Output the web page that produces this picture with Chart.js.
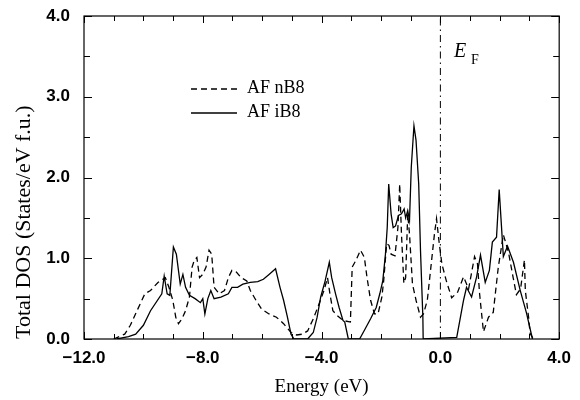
<!DOCTYPE html>
<html>
<head>
<meta charset="utf-8">
<script src="https://cdn.jsdelivr.net/npm/chart.js@4.4.1/dist/chart.umd.min.js"></script>
<style>
  body { margin: 0; background: #fff; }
  #dos { display: block; }
</style>
</head>
<body>
<canvas id="dos" width="580" height="400"></canvas>
<script>
// Total DOS, AF nB8 (dashed) and AF iB8 (solid)
const nB8Energy = [-11.0, -10.63, -10.44, -10.19, -9.95, -9.76, -9.51, -9.26, -9.14, -9.01, -8.91, -8.82, -8.7, -8.58, -8.45,
  -8.36, -8.29, -8.2, -8.11, -8.0, -7.89, -7.79, -7.7, -7.62, -7.45, -7.27, -7.14, -7.02, -6.87, -6.71, -6.52, -6.4, -6.21,
  -6.02, -5.77, -5.52, -5.28, -5.03, -4.84, -4.65, -4.47, -4.28, -4.09, -3.92, -3.8, -3.72, -3.62, -3.47, -3.28, -3.03,
  -2.97, -2.85, -2.69, -2.56, -2.47, -2.35, -2.22, -2.1, -1.97, -1.91, -1.81, -1.73, -1.66, -1.53, -1.43, -1.37, -1.31,
  -1.23, -1.17, -1.1, -1.04, -0.94, -0.82, -0.67, -0.57, -0.44, -0.32, -0.2, -0.13, -0.05, 0.05, 0.2, 0.38, 0.58, 0.78,
  0.95, 1.15, 1.25, 1.32, 1.45, 1.62, 1.78, 1.95, 2.12, 2.29, 2.45, 2.56, 2.7, 2.83, 2.86, 2.97, 3.02, 3.13];
const nB8Dos = [0, 0.06, 0.17, 0.37, 0.56, 0.6, 0.7, 0.76, 0.64, 0.48, 0.27, 0.19, 0.25, 0.35, 0.52,
  0.89, 0.97, 1.01, 0.76, 0.8, 0.89, 1.1, 1.05, 0.64, 0.56, 0.6, 0.76, 0.85, 0.83, 0.76, 0.72, 0.6, 0.48,
  0.37, 0.31, 0.27, 0.19, 0.08, 0.05, 0.06, 0.1, 0.25, 0.43, 0.6, 0.76, 0.56, 0.35, 0.29, 0.23, 0.21,
  0.89, 0.97, 1.1, 1.01, 0.76, 0.48, 0.31, 0.31, 0.52, 0.72, 1.18, 1.16, 1.05, 1.03, 1.38, 1.92, 1.3,
  0.69, 0.76, 1.55, 1.3, 0.68, 0.48, 0.27, 0.31, 0.48, 0.89, 1.3, 1.49, 1.22, 0.93, 0.72, 0.51, 0.58, 0.77,
  0.62, 1.02, 0.93, 0.56, 0.09, 0.27, 0.33, 0.89, 1.29, 1.08, 0.76, 0.55, 0.62, 0.98, 0.6, 0.27, 0.07, 0];

const iB8Energy = [-10.9, -10.5, -10.26, -10.0, -9.76, -9.38, -9.3, -9.2, -9.11, -8.99, -8.89, -8.76, -8.67, -8.58, -8.45,
  -8.26, -8.08, -8.0, -7.93, -7.83, -7.73, -7.62, -7.39, -7.14, -7.02, -6.83, -6.65, -6.4, -6.15, -5.96, -5.77, -5.55,
  -5.4, -5.28, -5.15, -5.03, -4.93, -4.47, -4.28, -4.15, -4.03, -3.88, -3.74, -3.66, -3.53, -3.41, -3.28, -3.22, -3.1,
  -2.72, -2.54, -2.35, -2.16, -2.04, -1.94, -1.85, -1.79, -1.74, -1.66, -1.59, -1.51, -1.41, -1.31, -1.22, -1.17, -1.1,
  -1.04, -0.98, -0.89, -0.82, -0.73, -0.67, -0.59, -0.58, 0.55, 0.68, 0.78, 0.88, 1.05, 1.22, 1.35, 1.51, 1.65, 1.75,
  1.89, 1.98, 2.12, 2.26, 2.46, 2.69, 2.9, 3.1];
const iB8Dos = [0, 0.03, 0.06, 0.17, 0.35, 0.56, 0.78, 0.56, 0.54, 1.14, 1.05, 0.68, 0.8, 0.64, 0.54,
  0.5, 0.45, 0.5, 0.31, 0.5, 0.6, 0.5, 0.52, 0.56, 0.64, 0.64, 0.68, 0.7, 0.71, 0.74, 0.8, 0.87,
  0.64, 0.48, 0.27, 0.06, 0, 0, 0.08, 0.27, 0.52, 0.72, 0.95, 0.76, 0.56, 0.39, 0.23, 0.21, 0,
  0, 0.12, 0.25, 0.39, 0.56, 0.72, 1.05, 1.38, 1.92, 1.55, 1.38, 1.4, 1.53, 1.55, 1.61, 1.5, 1.59,
  1.47, 2.13, 2.64, 2.46, 1.92, 1.1, 0.27, 0, 0.02, 0.28, 0.48, 0.64, 0.52, 0.77, 1.04, 0.7, 0.85, 1.2,
  1.26, 1.85, 1.02, 1.15, 0.95, 0.6, 0.32, 0];

const fermiEnergy = [0, 0];
const fermiDos = [0, 4];

const xTicks = [-12, -8, -4, 0, 4];
const yTicks = [0, 1, 2, 3, 4];

function toPoints(xs, ys) {
  return xs.map((x, i) => ({ x: x, y: ys[i] }));
}

const serif = "'Liberation Serif', 'DejaVu Serif', serif";
const sans = "'Liberation Sans', Arial, sans-serif";

function fmt(v) {
  const s = Math.abs(v).toFixed(1);
  return v < 0 ? "\u2212" + s : s;
}

// inward ticks on all four sides, frame, legend, E_F label
const framePlugin = {
  id: "frame",
  afterDraw(chart) {
    const { ctx, chartArea: a, scales: { x, y } } = chart;
    ctx.save();
    ctx.strokeStyle = "#000";
    ctx.lineWidth = 1.2;
    ctx.strokeRect(a.left, a.top, a.right - a.left, a.bottom - a.top);

    ctx.lineWidth = 1;
    ctx.beginPath();
    for (let v = x.min; v <= x.max; v += 1) {
      const px = Math.round(x.getPixelForValue(v)) + 0.5;
      const len = v % 4 === 0 ? 7 : 5;
      ctx.moveTo(px, a.bottom); ctx.lineTo(px, a.bottom - len);
      ctx.moveTo(px, a.top); ctx.lineTo(px, a.top + len);
    }
    for (let v = y.min; v <= y.max + 1e-9; v += 0.5) {
      const py = Math.round(y.getPixelForValue(v)) + 0.5;
      const len = Number.isInteger(v) ? 8 : 6;
      ctx.moveTo(a.left, py); ctx.lineTo(a.left + len, py);
      ctx.moveTo(a.right, py); ctx.lineTo(a.right - len, py);
    }
    ctx.stroke();

    // legend
    const lx = 191, lw = 46;
    const rows = [{ ds: chart.data.datasets[0], y: 88 }, { ds: chart.data.datasets[1], y: 112 }];
    ctx.font = "18px " + serif;
    ctx.fillStyle = "#000";
    ctx.textBaseline = "middle";
    rows.forEach(r => {
      ctx.setLineDash(r.ds.borderDash || []);
      ctx.lineWidth = r.ds.borderWidth;
      ctx.beginPath();
      ctx.moveTo(lx, r.y + 1); ctx.lineTo(lx + lw, r.y + 1);
      ctx.stroke();
      ctx.setLineDash([]);
      ctx.fillText(r.ds.label, 247, r.y);
    });

    // E_F
    ctx.font = "italic 20px " + serif;
    ctx.fillText("E", 454, 52);
    ctx.font = "14px " + serif;
    ctx.fillText("F", 471, 60);
    ctx.restore();
  }
};

const ctx = document.getElementById("dos");
new Chart(ctx, {
  type: "line",
  data: {
    datasets: [{
      label: "AF nB8",
      data: toPoints(nB8Energy, nB8Dos),
      borderColor: "#000",
      borderWidth: 1.3,
      borderDash: [6, 4],
      pointRadius: 0,
      tension: 0,
      fill: false
    }, {
      label: "AF iB8",
      data: toPoints(iB8Energy, iB8Dos),
      borderColor: "#000",
      borderWidth: 1.3,
      pointRadius: 0,
      tension: 0,
      fill: false
    }, {
      label: "E_F",
      data: toPoints(fermiEnergy, fermiDos),
      borderColor: "#000",
      borderWidth: 1,
      borderDash: [7, 4, 1.5, 4],
      pointRadius: 0,
      fill: false
    }]
  },
  options: {
    responsive: false,
    animation: false,
    layout: { padding: { left: 0, right: 18, top: 16, bottom: 0 } },
    plugins: {
      legend: { display: false },
      tooltip: { enabled: false }
    },
    scales: {
      x: {
        type: "linear",
        min: -12,
        max: 4,
        afterFit: s => { s.height = 61; },
        afterBuildTicks: s => { s.ticks = xTicks.map(v => ({ value: v })); },
        grid: { display: false, drawTicks: false },
        border: { display: false },
        ticks: {
          color: "#000",
          padding: 9,
          maxRotation: 0,
          font: { family: sans, size: 17, weight: "bold" },
          callback: v => fmt(v)
        },
        title: {
          display: true,
          text: "Energy (eV)",
          color: "#000",
          font: { family: serif, size: 19 },
          padding: { top: 0, bottom: 2 }
        }
      },
      y: {
        type: "linear",
        min: 0,
        max: 4,
        afterFit: s => { s.width = 84; s.paddingTop = 0; s.paddingBottom = 0; },
        afterBuildTicks: s => { s.ticks = yTicks.map(v => ({ value: v })); },
        grid: { display: false, drawTicks: false },
        border: { display: false },
        ticks: {
          color: "#000",
          padding: 14,
          font: { family: sans, size: 17, weight: "bold" },
          callback: v => fmt(v)
        },
        title: {
          display: true,
          text: "Total DOS (States/eV f.u.)",
          align: "start",
          color: "#000",
          font: { family: serif, size: 22 },
          padding: { top: 11, bottom: 0 }
        }
      }
    }
  },
  plugins: [framePlugin]
});
</script>
</body>
</html>
